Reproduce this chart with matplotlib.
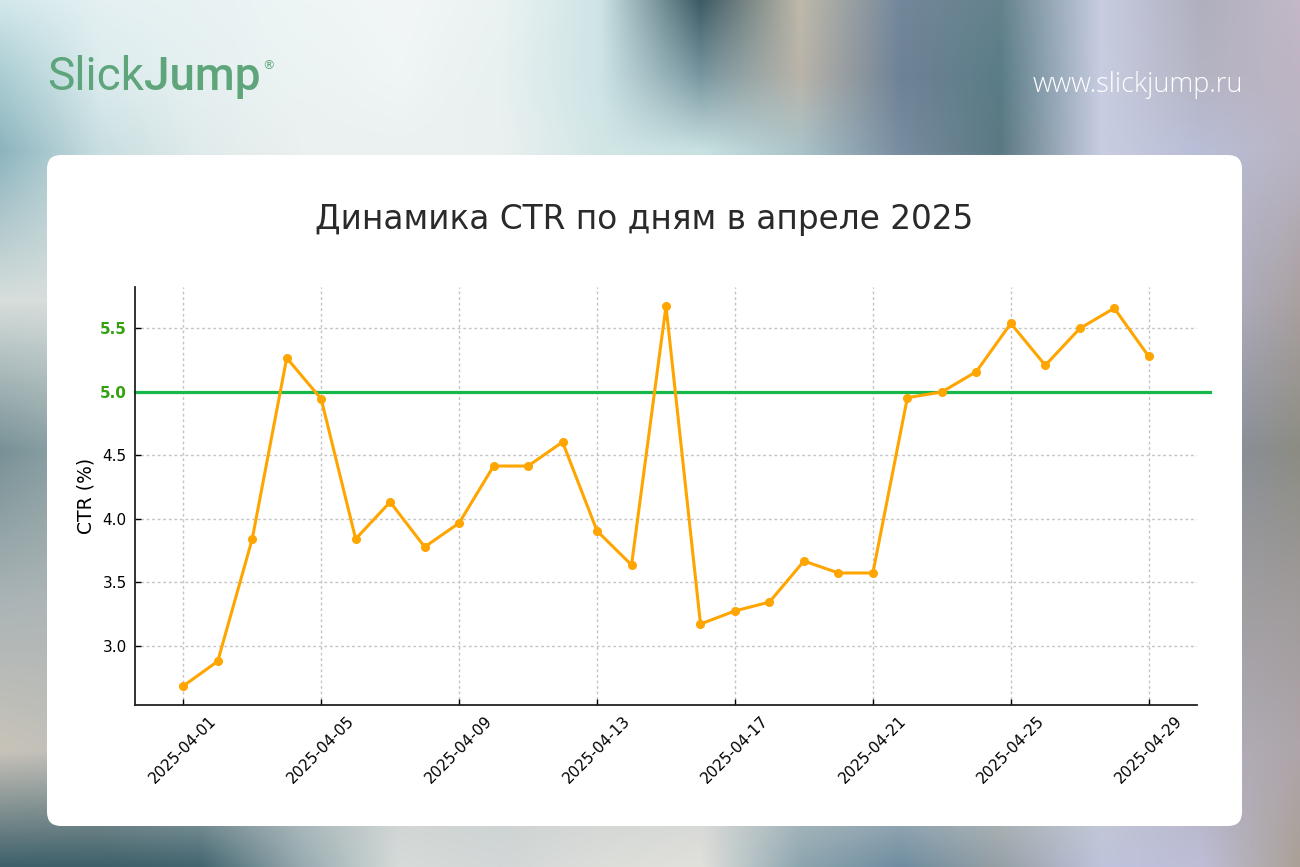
import numpy as np
import pandas as pd
import matplotlib
matplotlib.use("Agg")
import matplotlib.pyplot as plt
import matplotlib.dates as mdates
from matplotlib.patches import FancyBboxPatch

# ---------------- data ----------------
dates = pd.date_range("2025-04-01", "2025-04-29", freq="D")
ctr = [2.685, 2.88, 3.843, 5.268, 4.945, 3.843, 4.134, 3.78, 3.968, 4.417,
       4.417, 4.606, 3.906, 3.638, 5.677, 3.173, 3.276, 3.346, 3.669, 3.575,
       3.575, 4.955, 5.0, 5.16, 5.54, 5.21, 5.50, 5.66, 5.28]
target = 5.0
yticks = [3.0, 3.5, 4.0, 4.5, 5.0, 5.5]
title = "Динамика CTR по дням в апреле 2025"
ylabel = "CTR (%)"
logo_a, logo_b = "Slick", "Jump"
url = "www.slickjump.ru"

W, H = 1300, 867
fig = plt.figure(figsize=(W / 100, H / 100), dpi=100)

# ---------------- blurred background ----------------
xs = np.array([0, 100, 200, 300, 400, 500, 600, 700, 800, 900, 1000, 1100, 1200, 1300])
ys = np.array([0, 75, 150, 300, 450, 600, 750, 867])
mid = (200, 205, 205)
rows = [
    [(210,232,235),(228,240,242),(232,242,243),(238,245,245),(242,246,246),(235,242,242),(205,228,230),(60,90,100),(190,185,170),(115,135,155),(100,130,140),(200,205,225),(175,175,190),(195,185,200)],
    [(170,205,210),(220,236,238),(230,240,241),(236,243,243),(240,245,245),(232,240,240),(205,228,230),(120,150,160),(185,180,170),(110,130,150),(90,125,135),(200,205,225),(180,180,195),(190,180,195)],
    [(140,180,190),(200,222,225),(225,235,235),(235,240,240),(235,240,240),(235,240,240),(210,230,230),(200,225,225),(170,195,200),(120,140,160),(90,120,130),(200,205,225),(185,190,215),(185,180,195)],
    [(215,222,220),(215,222,220)] + [mid] * 10 + [(175,180,205),(170,160,160)],
    [(120,145,150),(150,170,172)] + [mid] * 10 + [(135,145,165),(140,140,130)],
    [(170,180,182),(175,182,182)] + [mid] * 10 + [(160,160,165),(160,155,155)],
    [(200,195,185),(190,190,185)] + [mid] * 10 + [(175,175,190),(175,165,170)],
    [(60,95,105),(60,95,105),(65,100,110),(150,170,175),(215,220,218),(210,215,215),(220,222,218),(225,225,220),(140,165,175),(110,140,160),(150,160,165),(190,195,220),(190,190,215),(170,160,150)],
]
grid = np.array(rows, dtype=float) / 255.0
px = np.arange(W)
py = np.arange(H)
tmp = np.empty((len(ys), W, 3))
for i in range(len(ys)):
    for c in range(3):
        tmp[i, :, c] = np.interp(px, xs, grid[i, :, c])
img = np.empty((H, W, 3))
for c in range(3):
    for j in range(W):
        img[:, j, c] = np.interp(py, ys, tmp[:, j, c])

bg = fig.add_axes([0, 0, 1, 1])
bg.imshow(img, extent=[0, W, H, 0], aspect="auto", interpolation="nearest")
bg.set_xlim(0, W)
bg.set_ylim(H, 0)
bg.axis("off")

panel = FancyBboxPatch((47, 155), 1195, 671, boxstyle="round,pad=0,rounding_size=14",
                       facecolor="white", edgecolor="none")
bg.add_patch(panel)

# logo
green_logo = "#5fa57c"
t1 = bg.text(47, 90, logo_a, fontsize=33, family="Roboto", fontweight="normal",
             color=green_logo, va="baseline", ha="left")
t2 = bg.annotate(logo_b, xy=(1, 0), xycoords=t1, fontsize=33, family="Roboto",
                 fontweight=500, color=green_logo, va="bottom", ha="left")
bg.annotate("®", xy=(1, 1), xycoords=t2, xytext=(1, -3), textcoords="offset points",
            fontsize=9, family="DejaVu Sans", color=green_logo, va="top", ha="left")

bg.text(1243, 92, url, fontsize=19.5, family="Open Sans", fontweight="light",
        color="white", va="baseline", ha="right")

bg.text(644, 219, title, fontsize=23.6, family="DejaVu Sans", color="#2a2a2a",
        ha="center", va="center")

# ---------------- chart ----------------
ax = fig.add_axes([135 / W, (H - 705) / H, 1062 / W, 418 / H])
ax.set_facecolor("none")
ax.plot(dates, ctr, color="#FFA500", linewidth=2.2, marker="o", markersize=5.5, zorder=3)
ax.axhline(target, xmin=0, xmax=(1210 - 135) / 1062, color="#17b84a", linewidth=2.3,
           clip_on=False, zorder=2)

ax.set_xticks(pd.date_range("2025-04-01", "2025-04-29", freq="4D"))
ax.xaxis.set_major_formatter(mdates.DateFormatter("%Y-%m-%d"))
ax.set_yticks(yticks)
ax.set_yticklabels([f"{v:.1f}" for v in yticks])
for lab in ax.get_xticklabels():
    lab.set_rotation(45)
    lab.set_ha("center")

ax.tick_params(axis="both", direction="in", labelsize=11, length=4, width=1, pad=6)
for lab, v in zip(ax.get_yticklabels(), yticks):
    if v >= target:
        lab.set_color("#33a00e")
        lab.set_fontweight("bold")

ax.grid(True, color="#c4c4c4", linestyle=(0, (2, 2)), linewidth=1)
ax.set_axisbelow(True)
for s in ["top", "right"]:
    ax.spines[s].set_visible(False)
for s in ["left", "bottom"]:
    ax.spines[s].set_linewidth(1.3)
    ax.spines[s].set_color("#222222")

ax.set_ylabel(ylabel, fontsize=13.5, labelpad=3)

fig.savefig("out.png", dpi=100)
